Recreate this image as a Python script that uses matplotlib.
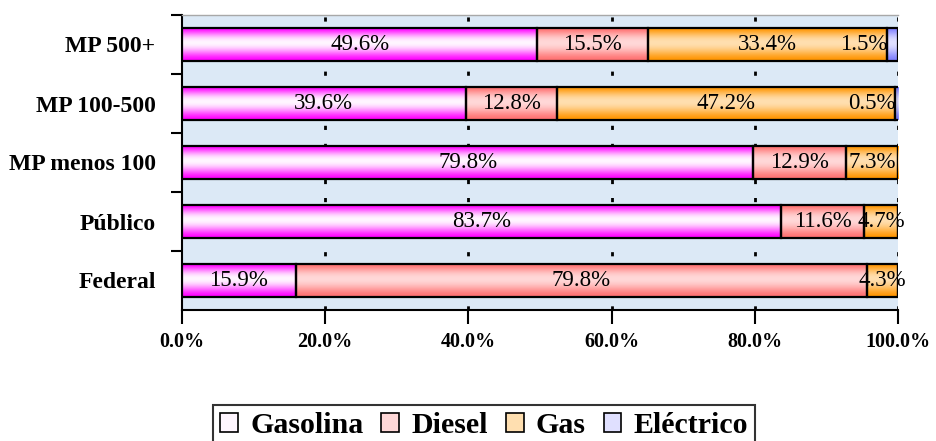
import numpy as np
import matplotlib.pyplot as plt
from matplotlib.colors import to_rgb
from matplotlib.patches import Patch

plt.rcParams['font.family'] = ['Liberation Serif', 'DejaVu Serif']

# Fuel share per fleet segment (%), drawn bottom -> top
categories = ['Federal', 'Público', 'MP menos 100', 'MP 100-500', 'MP 500+']
gasolina = [15.9, 83.7, 79.8, 39.6, 49.6]
diesel = [79.8, 11.6, 12.9, 12.8, 15.5]
gas = [4.3, 4.7, 7.3, 47.2, 33.4]
electrico = [0.0, 0.0, 0.0, 0.5, 1.5]

series = [
    ('Gasolina', gasolina, '#FF00FF', '#FFF6FF'),
    ('Diesel', diesel, '#FF7070', '#FFD8D8'),
    ('Gas', gas, '#FF9500', '#FFDFB0'),
    ('Eléctrico', electrico, '#7F7FFF', '#E0E0FF'),
]


def gradient_img(edge, light, n=64):
    # edge colour at top and bottom, light band just above the middle
    t = np.linspace(0, 1, n)
    f = np.sin(np.pi * t ** 0.85) ** 1.6
    e = np.array(to_rgb(edge))
    l = np.array(to_rgb(light))
    rows = e[None, :] * (1 - f[:, None]) + l[None, :] * f[:, None]
    return rows[:, None, :]


fig = plt.figure(figsize=(9.37, 4.41), dpi=100)
ax = fig.add_axes([182 / 937, 1 - 310 / 441, 716 / 937, 295 / 441])
ax.set_facecolor('#DCE9F6')

y = np.arange(len(categories))
bar_h = 0.55
left = np.zeros(len(categories))

for name, vals, edge, light in series:
    vals = np.array(vals)
    bars = ax.barh(y, vals, left=left, height=bar_h, color='none',
                   edgecolor='black', linewidth=1.6, zorder=4)
    img = gradient_img(edge, light)
    for rect, v, lft, yy in zip(bars, vals, left, y):
        if v <= 0:
            continue
        im = ax.imshow(img, extent=(lft, lft + v, yy - bar_h / 2, yy + bar_h / 2),
                       aspect='auto', origin='upper', interpolation='bilinear', zorder=3)
        im.set_clip_path(rect)
        # value label, tiny segments get pushed to the left of the segment
        if v < 2:
            ax.text(lft, yy, f'{v:.1f}%', ha='right', va='center',
                    fontsize=16.5, zorder=6)
        else:
            ax.text(lft + v / 2, yy, f'{v:.1f}%', ha='center', va='center',
                    fontsize=16.5, zorder=6)
    left = left + vals

ax.set_xlim(0, 100)
ax.set_ylim(-0.5, len(categories) - 0.5)

# dotted vertical grid
for gx in [20, 40, 60, 80, 100]:
    ax.axvline(gx, color='black', linewidth=2, linestyle=(0, (1.5, 5)), zorder=1)

ax.set_xticks([0, 20, 40, 60, 80, 100])
ax.set_xticklabels([f'{v:.1f}%' for v in [0, 20, 40, 60, 80, 100]],
                   fontsize=14.5, fontweight='bold')
ax.tick_params(axis='x', length=10, width=1.5, pad=6)

ax.set_yticks(y)
ax.set_yticklabels(categories, fontsize=17, fontweight='bold')
ax.set_yticks(np.arange(len(categories)) + 0.5, minor=True)
ax.tick_params(axis='y', which='major', length=0, pad=19)
ax.tick_params(axis='y', which='minor', length=8, width=1.5)

ax.spines['right'].set_visible(False)
ax.spines['top'].set_color('#A8A8A8')
ax.spines['top'].set_linewidth(1)
ax.spines['left'].set_linewidth(1.5)
ax.spines['bottom'].set_linewidth(1.5)

handles = [Patch(facecolor=light, edgecolor='black', linewidth=1.2, label=name)
           for name, _, edge, light in series]
leg = fig.legend(handles=handles, loc='upper left',
                 bbox_to_anchor=(213 / 937, 1 - 405 / 441), ncol=4,
                 prop={'size': 21.5, 'weight': 'bold'}, frameon=True, fancybox=False,
                 handlelength=0.6, handleheight=0.6, handletextpad=0.4,
                 columnspacing=0.6, borderpad=0.25, borderaxespad=0)
leg.get_frame().set_edgecolor('black')
leg.get_frame().set_linewidth(1.5)

fig.savefig('out.png', dpi=100)
